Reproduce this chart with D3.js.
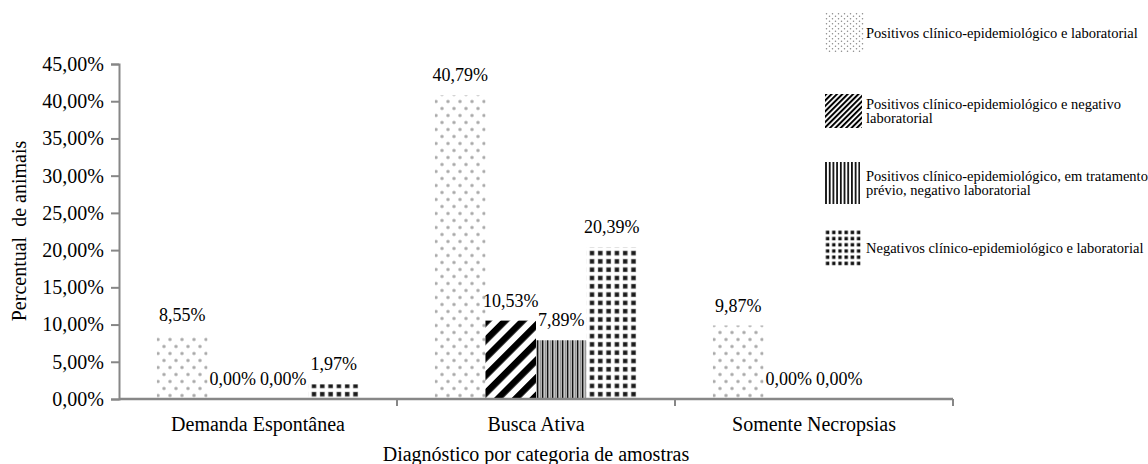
<!DOCTYPE html>
<html>
<head>
<meta charset="utf-8">
<script src="https://cdn.jsdelivr.net/npm/d3@7/dist/d3.min.js"></script>
<style>
  html, body { margin: 0; padding: 0; background: #fff; }
  svg { display: block; }
</style>
</head>
<body>
<svg id="chart" width="1148" height="464" font-family="'Liberation Serif', 'Times New Roman', Times, 'DejaVu Serif', serif"></svg>
<script>
// Categories on the x axis
const categories = ["Demanda Espontânea", "Busca Ativa", "Somente Necropsias"];

// Series (legend entries), split into legend lines
const seriesNames = [
  "Positivos clínico-epidemiológico e laboratorial",
  "Positivos clínico-epidemiológico e negativo laboratorial",
  "Positivos clínico-epidemiológico, em tratamento prévio, negativo laboratorial",
  "Negativos clínico-epidemiológico e laboratorial"
];
const legendLines = [
  ["Positivos clínico-epidemiológico e laboratorial"],
  ["Positivos clínico-epidemiológico e negativo", "laboratorial"],
  ["Positivos clínico-epidemiológico, em tratamento", "prévio, negativo laboratorial"],
  ["Negativos clínico-epidemiológico e laboratorial"]
];

// Percent values per series, one per category (null = no value)
const posClinLab     = [8.55, 40.79, 9.87];
const posClinNegLab  = [0.00, 10.53, 0.00];
const posTratNegLab  = [0.00, 7.89, 0.00];
const negClinLab     = [1.97, 20.39, null];

// Y axis ticks
const yTicks = [0, 5, 10, 15, 20, 25, 30, 35, 40, 45];

const seriesValues = [posClinLab, posClinNegLab, posTratNegLab, negClinLab];
const fmt = v => v.toFixed(2).replace(".", ",") + "%";
const FONT = "'Liberation Serif', 'Times New Roman', Times, 'DejaVu Serif', serif";
const AXIS_FS = 20;   // axis labels and titles
const LABEL_FS = 18;  // value labels

const svg = d3.select("#chart");
const defs = svg.append("defs");

// ---------- fill patterns ----------
const grad = defs.append("radialGradient").attr("id", "softDot");
grad.append("stop").attr("offset", "0%").attr("stop-color", "#999");
grad.append("stop").attr("offset", "55%").attr("stop-color", "#c4c4c4");
grad.append("stop").attr("offset", "100%").attr("stop-color", "#ffffff");

function pat(id, w, h, transform) {
  const p = defs.append("pattern").attr("id", id)
    .attr("patternUnits", "userSpaceOnUse").attr("width", w).attr("height", h);
  if (transform) p.attr("patternTransform", transform);
  p.append("rect").attr("width", w).attr("height", h).attr("fill", "#fff");
  return p;
}

// Bar patterns
let p = pat("barDots", 12, 14);
p.append("circle").attr("cx", 3).attr("cy", 3.5).attr("r", 2.4).attr("fill", "url(#softDot)");
p.append("circle").attr("cx", 9).attr("cy", 10.5).attr("r", 2.4).attr("fill", "url(#softDot)");

p = pat("barDiag", 12.5, 12.5, "rotate(45)");
p.append("rect").attr("x", 0).attr("width", 6.5).attr("height", 12.5).attr("fill", "#000");

p = pat("barVert", 5, 10);
p.append("rect").attr("x", 0).attr("width", 5).attr("height", 10).attr("fill", "#8a8a8a");
p.append("rect").attr("x", 0).attr("width", 1.6).attr("height", 10).attr("fill", "#111");
p.append("rect").attr("x", 1.6).attr("width", 1.0).attr("height", 10).attr("fill", "#e8e8e8");
p.append("rect").attr("x", 3.8).attr("width", 0.8).attr("height", 10).attr("fill", "#d0d0d0");

p = pat("barGrid", 8.3, 8.3);
p.append("rect").attr("x", 1.6).attr("y", 1.6).attr("width", 5).attr("height", 5).attr("fill", "#9a9a9a");
p.append("rect").attr("x", 2.1).attr("y", 2.1).attr("width", 4).attr("height", 4).attr("fill", "#1a1a1a");

// Legend patterns (finer)
p = pat("legDots", 6, 5);
p.append("circle").attr("cx", 1.5).attr("cy", 1.25).attr("r", 0.75).attr("fill", "#8a8a8a");
p.append("circle").attr("cx", 4.5).attr("cy", 3.75).attr("r", 0.75).attr("fill", "#8a8a8a");

p = pat("legDiag", 3.8, 3.8, "rotate(45)");
p.append("rect").attr("x", 0).attr("width", 2.0).attr("height", 3.8).attr("fill", "#000");

p = pat("legVert", 3.7, 10);
p.append("rect").attr("x", 0).attr("width", 1.8).attr("height", 10).attr("fill", "#111");

p = pat("legGrid", 6.2, 6.2);
p.append("rect").attr("x", 1.3).attr("y", 1.3).attr("width", 3.4).attr("height", 3.4).attr("fill", "#111");

const barFills = ["url(#barDots)", "url(#barDiag)", "url(#barVert)", "url(#barGrid)"];
const legFills = ["url(#legDots)", "url(#legDiag)", "url(#legVert)", "url(#legGrid)"];

// ---------- scales ----------
const x0 = d3.scaleBand().domain(categories).range([119, 953]).paddingInner(0).paddingOuter(0);
const x1 = d3.scaleBand().domain(d3.range(seriesNames.length)).range([0, x0.bandwidth()])
  .paddingInner(0).paddingOuter(0.75);
const y = d3.scaleLinear().domain([0, 45]).range([399, 64]);

const axisColor = "#878787";

// ---------- bars ----------
const groups = svg.append("g").selectAll("g")
  .data(categories).join("g")
  .attr("transform", c => `translate(${x0(c)},0)`);

groups.each(function (c, ci) {
  const g = d3.select(this);
  seriesValues.forEach((vals, si) => {
    const v = vals[ci];
    if (v === null) return;
    if (v > 0) {
      g.append("rect")
        .attr("x", x1(si)).attr("width", x1.bandwidth())
        .attr("y", y(v)).attr("height", y(0) - y(v))
        .attr("fill", barFills[si]);
    }
    g.append("text")
      .attr("x", x1(si) + x1.bandwidth() / 2)
      .attr("y", y(v) - 14)
      .attr("text-anchor", "middle")
      .attr("font-size", LABEL_FS)
      .attr("font-family", FONT)
      .text(fmt(v));
  });
});

// ---------- axes ----------
const yAxis = svg.append("g").attr("transform", "translate(119,0)")
  .call(d3.axisLeft(y).tickValues(yTicks).tickSize(8).tickPadding(7).tickFormat(fmt));
yAxis.attr("font-family", FONT).attr("font-size", AXIS_FS);
yAxis.select(".domain").attr("stroke", axisColor).attr("stroke-width", 2);
yAxis.selectAll(".tick line").attr("stroke", axisColor).attr("stroke-width", 2);
yAxis.selectAll(".tick text").attr("font-size", AXIS_FS).attr("font-family", FONT).attr("fill", "#000");

// x axis: baseline with tick marks between categories
const xAxis = svg.append("g");
xAxis.append("line")
  .attr("x1", x0.range()[0]).attr("x2", x0.range()[1])
  .attr("y1", y(0)).attr("y2", y(0))
  .attr("stroke", axisColor).attr("stroke-width", 2.5);
xAxis.selectAll("line.tk").data(categories).join("line").attr("class", "tk")
  .attr("x1", c => x0(c) + x0.bandwidth()).attr("x2", c => x0(c) + x0.bandwidth())
  .attr("y1", y(0)).attr("y2", y(0) + 7)
  .attr("stroke", axisColor).attr("stroke-width", 2);
xAxis.selectAll("text").data(categories).join("text")
  .attr("x", c => x0(c) + x0.bandwidth() / 2)
  .attr("y", 431)
  .attr("text-anchor", "middle")
  .attr("font-size", AXIS_FS)
  .attr("font-family", FONT)
  .text(c => c);

// axis titles
svg.append("text")
  .attr("x", 536).attr("y", 461)
  .attr("text-anchor", "middle").attr("font-size", AXIS_FS).attr("font-family", FONT)
  .text("Diagnóstico por categoria de amostras");
svg.append("text")
  .attr("transform", "translate(26,231) rotate(-90)")
  .attr("text-anchor", "middle").attr("font-size", AXIS_FS).attr("font-family", FONT)
  .style("white-space", "pre")
  .text("Percentual  de animais");

// ---------- legend ----------
const legendBoxes = [
  { y: 13, h: 40, w: 39 },
  { y: 94, h: 34, w: 37 },
  { y: 162, h: 42, w: 35 },
  { y: 230, h: 36, w: 37 }
];
const legend = svg.append("g");
legendBoxes.forEach((b, i) => {
  legend.append("rect")
    .attr("x", 825).attr("y", b.y).attr("width", b.w).attr("height", b.h)
    .attr("fill", legFills[i]);
  const lines = legendLines[i];
  const lh = 14.5;
  const cy = b.y + b.h / 2;
  lines.forEach((ln, k) => {
    legend.append("text")
      .attr("x", 866)
      .attr("y", cy - (lines.length - 1) * lh / 2 + k * lh + 5)
      .attr("font-size", 14.5)
      .attr("font-family", FONT)
      .text(ln);
  });
});
</script>
</body>
</html>
